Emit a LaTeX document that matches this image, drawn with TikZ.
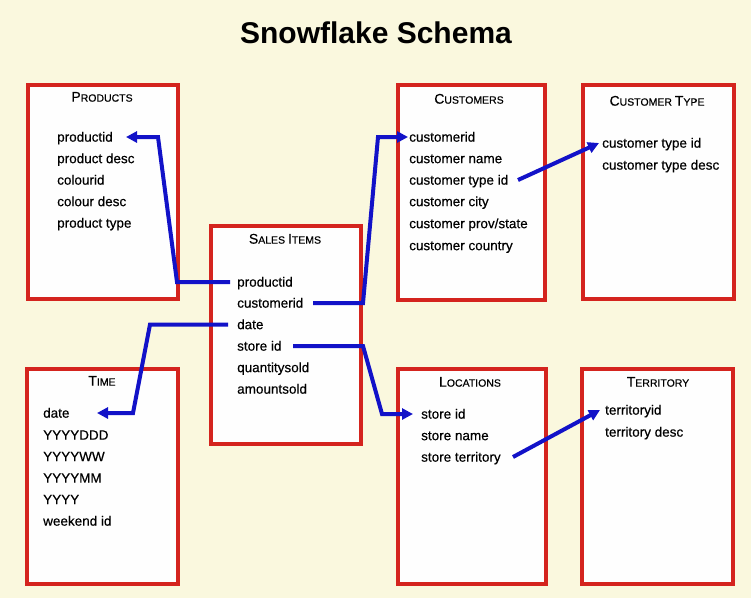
\documentclass[tikz,border=0pt]{standalone}
\usepackage{fontspec}
\setmainfont{Liberation Sans}
\newfontfamily\fieldfont[FakeBold=0.4]{Liberation Sans}
\usetikzlibrary{arrows.meta}
\definecolor{bgc}{RGB}{250,248,222}
\definecolor{redb}{RGB}{212,36,30}
\definecolor{blueln}{RGB}{18,18,200}
\definecolor{boxfill}{RGB}{254,254,254}
\newcommand\hd[2]{{\fontsize{14}{14}\selectfont #1}{\fontsize{10.5}{10.5}\selectfont #2}}
\tikzset{
  tbl/.style={draw=redb, line width=4pt, fill=boxfill, rectangle, inner sep=0pt, anchor=north west},
  fld/.style={anchor=mid west, inner sep=0pt, yshift=-2pt, font=\fieldfont\fontsize{13.5}{14}\selectfont},
  hdr/.style={anchor=mid, inner sep=0pt, font=\fieldfont},
  link/.style={draw=blueln, line width=4pt, line join=miter},
  arr/.style={link, -{Triangle[length=11pt,width=11pt]}}
}
\begin{document}
\begin{tikzpicture}[x=1pt,y=-1pt]
\fill[bgc] (0,0) rectangle (751,598);
\useasboundingbox (0,0) rectangle (751,598);
\node[font=\fontsize{30}{30}\bfseries\selectfont] (title) at (376,33) {Snowflake Schema};

% boxes
\node[tbl, minimum width=150pt, minimum height=214pt] (products) at (26,83) {};
\node[tbl, minimum width=150pt, minimum height=218pt] (sales) at (209,224) {};
\node[tbl, minimum width=147pt, minimum height=215pt] (customers) at (396,83) {};
\node[tbl, minimum width=151pt, minimum height=214pt] (ctype) at (581,83) {};
\node[tbl, minimum width=151pt, minimum height=215pt] (time) at (25,367) {};
\node[tbl, minimum width=148pt, minimum height=215pt] (locations) at (396,367) {};
\node[tbl, minimum width=151pt, minimum height=215pt] (territory) at (580,367) {};

% products
\node[hdr] (ph) at (102,99) {\hd{P}{RODUCTS}};
\node[fld] (p1) at (57,137) {productid};
\node[fld] (p2) at (57,158.5) {product desc};
\node[fld] (p3) at (57,180) {colourid};
\node[fld] (p4) at (57,201.5) {colour desc};
\node[fld] (p5) at (57,223) {product type};

% sales items
\node[hdr] (sh) at (285,241) {\hd{S}{ALES }\hd{I}{TEMS}};
\node[fld] (s1) at (237,282) {productid};
\node[fld] (s2) at (237,303) {customerid};
\node[fld] (s3) at (237,324.5) {date};
\node[fld] (s4) at (237,346) {store id};
\node[fld] (s5) at (237,367.5) {quantitysold};
\node[fld] (s6) at (237,389) {amountsold};

% customers
\node[hdr] (ch) at (469,101) {\hd{C}{USTOMERS}};
\node[fld] (c1) at (409,137) {customerid};
\node[fld] (c2) at (409,158.5) {customer name};
\node[fld] (c3) at (409,180) {customer type id};
\node[fld] (c4) at (409,201.5) {customer city};
\node[fld] (c5) at (409,223.5) {customer prov/state};
\node[fld] (c6) at (409,245.5) {customer country};

% customer type
\node[hdr] (cth) at (657,103) {\hd{C}{USTOMER }\hd{T}{YPE}};
\node[fld] (ct1) at (602,143) {customer type id};
\node[fld] (ct2) at (602,165) {customer type desc};

% time
\node[hdr] (th) at (102,383) {\hd{T}{IME}};
\node[fld] (t1) at (43,413) {date};
\node[fld] (t2) at (43,435) {YYYYDDD};
\node[fld] (t3) at (43,456.5) {YYYYWW};
\node[fld] (t4) at (43,478) {YYYYMM};
\node[fld] (t5) at (43,499.5) {YYYY};
\node[fld] (t6) at (43,521) {weekend id};

% locations
\node[hdr] (lh) at (470,384) {\hd{L}{OCATIONS}};
\node[fld] (l1) at (421,414) {store id};
\node[fld] (l2) at (421,435.5) {store name};
\node[fld] (l3) at (421,457) {store territory};

% territory
\node[hdr] (rh) at (658,384) {\hd{T}{ERRITORY}};
\node[fld] (r1) at (605,410) {territoryid};
\node[fld] (r2) at (605,432) {territory desc};

% connectors (text nodes are shifted 2pt down; links keep the field line)
\tikzset{fl/.style={yshift=2pt}}
\draw[arr] ([fl]230,0 |- s1.mid west) -- ([fl]177,0 |- s1.mid west) -- ([fl]158,0 |- p1.mid west) -- ([fl]126,0 |- p1.mid west);
\draw[arr] ([fl]313,0 |- s2.mid west) -- ([fl]363,0 |- s2.mid west) -- ([fl]378,0 |- c1.mid west) -- ([fl]408,0 |- c1.mid west);
\draw[arr] ([fl]228,0 |- s3.mid west) -- ([fl]150,0 |- s3.mid west) -- ([fl]133,0 |- t1.mid west) -- ([fl]97,0 |- t1.mid west);
\draw[arr] ([fl]293,0 |- s4.mid west) -- ([fl]363,0 |- s4.mid west) -- ([fl]382,0 |- l1.mid west) -- ([fl]413,0 |- l1.mid west);
\draw[arr] ([fl]518,0 |- c3.mid west) -- ([fl]599,0 |- ct1.mid west);
\draw[arr] ([fl]513,0 |- l3.mid west) -- ([fl]600,0 |- r1.mid west);
\end{tikzpicture}
\end{document}
